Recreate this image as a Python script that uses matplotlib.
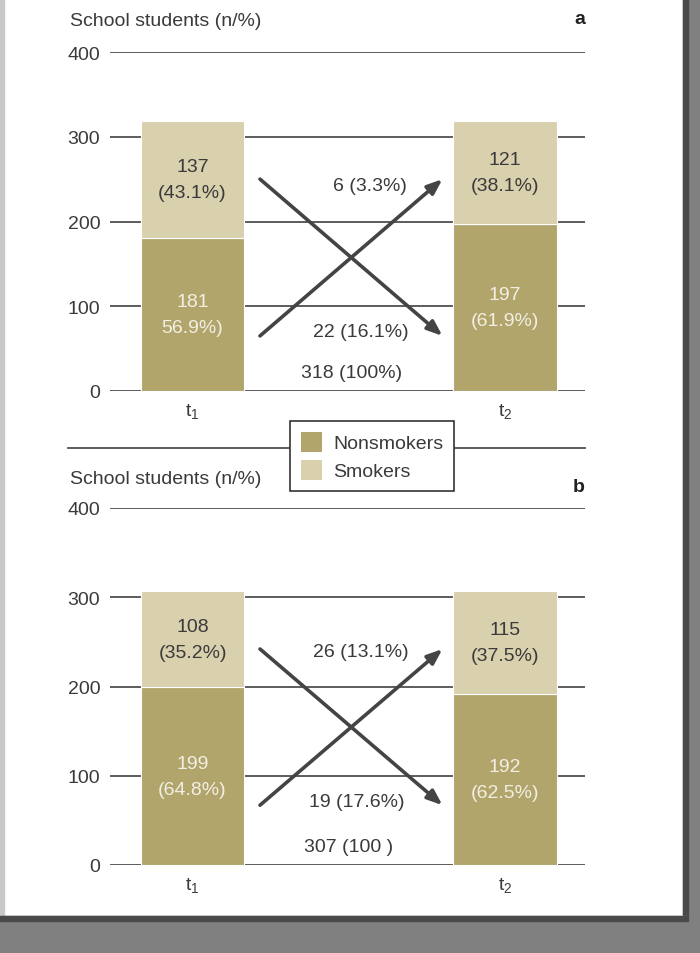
import matplotlib
matplotlib.use("Agg")
import matplotlib.pyplot as plt
from matplotlib.patches import Patch, Rectangle
from matplotlib.lines import Line2D

plt.rcParams['font.family'] = ['Liberation Sans Narrow', 'Liberation Sans', 'DejaVu Sans']

# data
times = ["t1", "t2"]
tick_labels = [r"$\mathregular{t_1}$", r"$\mathregular{t_2}$"]

a_nonsmokers = [181, 197]
a_smokers = [137, 121]
a_non_labels = ["181\n56.9%)", "197\n(61.9%)"]
a_smk_labels = ["137\n(43.1%)", "121\n(38.1%)"]
a_flow_labels = ["6 (3.3%)", "22 (16.1%)"]
a_total = "318 (100%)"

b_nonsmokers = [199, 192]
b_smokers = [108, 115]
b_non_labels = ["199\n(64.8%)", "192\n(62.5%)"]
b_smk_labels = ["108\n(35.2%)", "115\n(37.5%)"]
b_flow_labels = ["26 (13.1%)", "19 (17.6%)"]
b_total = "307 (100 )"

yticks = [0, 100, 200, 300, 400]

c_non = "#b1a56b"
c_smk = "#d9d0ae"
c_txt = "#3a3a3a"
c_line = "#4f4f4f"
fs = 14

W, H = 700, 954
fig = plt.figure(figsize=(7, 9.54), dpi=100, facecolor="white")


def px(x0, y0, x1, y1):
    # pixel box -> figure fraction rect
    return [x0 / W, 1 - y1 / H, (x1 - x0) / W, (y1 - y0) / H]


# page border
fig.add_artist(Rectangle((0, 0), 4 / W, 1, transform=fig.transFigure, color="#c8c8c8", zorder=0))
fig.add_artist(Rectangle((683 / W, 0), 17 / W, 1, transform=fig.transFigure, color="#808080", zorder=0))
fig.add_artist(Rectangle((683 / W, 0), 5 / W, 1, transform=fig.transFigure, color="#4a4a4a", zorder=0))
fig.add_artist(Rectangle((0, 0), 1, 1 - 917 / H, transform=fig.transFigure, color="#808080", zorder=0))
fig.add_artist(Rectangle((0, 1 - 922 / H), 688 / W, 5 / H, transform=fig.transFigure, color="#4a4a4a", zorder=0))


def panel(rect, non, smk, non_lbl, smk_lbl, flows, flow_pos, total, arrows):
    ax = fig.add_axes(rect)
    ax.set_facecolor("none")
    x = [0, 1]
    for y in yticks:
        ax.axhline(y, color=c_line, lw=1.3, zorder=1)
    ax.bar(x, non, width=0.33, color=c_non, edgecolor="white", lw=0.8, zorder=2)
    ax.bar(x, smk, width=0.33, bottom=non, color=c_smk, edgecolor="white", lw=0.8, zorder=2)
    for i in x:
        ax.text(i, non[i] / 2, non_lbl[i], ha="center", va="center", color="#f2efe4",
                fontsize=fs, linespacing=1.7, zorder=3)
        ax.text(i, non[i] + smk[i] / 2, smk_lbl[i], ha="center", va="center", color=c_txt,
                fontsize=fs, linespacing=1.7, zorder=3)
    # transition arrows
    (y_hi, y_lo) = arrows
    style = "-|>,head_length=0.9,head_width=0.35"
    ax.annotate("", xy=(0.8, y_lo), xytext=(0.216, y_hi),
                arrowprops=dict(arrowstyle=style, color="#444444", lw=2.6, shrinkA=0, shrinkB=0),
                zorder=4)
    ax.annotate("", xy=(0.8, y_hi), xytext=(0.216, y_lo),
                arrowprops=dict(arrowstyle=style, color="#444444", lw=2.6, shrinkA=0, shrinkB=0),
                zorder=4)
    for (tx, ty), s in zip(flow_pos, flows + [total]):
        ax.text(tx, ty, s, ha="center", va="center", color=c_txt, fontsize=fs)

    ax.set_xlim(-0.264, 1.256)
    ax.set_ylim(0, 400)
    ax.set_yticks(yticks)
    ax.set_xticks(x)
    ax.set_xticklabels(tick_labels)
    ax.tick_params(axis="y", length=0, pad=7, labelsize=fs, labelcolor=c_txt)
    ax.tick_params(axis="x", length=0, pad=7, labelsize=fs, labelcolor=c_txt)
    for s in ax.spines.values():
        s.set_visible(False)
    return ax


panel(px(110, 53, 585, 392), a_nonsmokers, a_smokers, a_non_labels, a_smk_labels,
      a_flow_labels, [(0.568, 243), (0.54, 70), (0.51, 22)], a_total, (250, 65))
panel(px(110, 509, 585, 866), b_nonsmokers, b_smokers, b_non_labels, b_smk_labels,
      b_flow_labels, [(0.54, 239), (0.525, 71), (0.5, 21)], b_total, (242, 67))

# titles and panel letters
fig.text(70 / W, 1 - 22 / H, "School students (n/%)", ha="left", va="center", fontsize=fs, color=c_txt)
fig.text(70 / W, 1 - 479 / H, "School students (n/%)", ha="left", va="center", fontsize=fs, color=c_txt)
fig.text(585 / W, 1 - 20 / H, "a", ha="right", va="center", fontsize=fs, weight="bold", color="#222222")
fig.text(585 / W, 1 - 488 / H, "b", ha="right", va="center", fontsize=fs, weight="bold", color="#222222")

# separator line
fig.add_artist(Line2D([68 / W, 585 / W], [1 - 449 / H, 1 - 449 / H], transform=fig.transFigure,
                      color=c_line, lw=1.3))

handles = [Patch(facecolor=c_non, edgecolor="none", label="Nonsmokers"),
           Patch(facecolor=c_smk, edgecolor="none", label="Smokers")]
leg = fig.legend(handles=handles, loc="center", bbox_to_anchor=(372 / W, 1 - 457 / H),
                 fontsize=fs, frameon=True, fancybox=False, edgecolor="#333333",
                 handlelength=1.1, handleheight=1.2, handletextpad=0.55, borderpad=0.55,
                 labelspacing=0.4, framealpha=1)
leg.get_frame().set_linewidth(1.2)
for t in leg.get_texts():
    t.set_color(c_txt)

fig.savefig("out.png", dpi=100, facecolor="white")
